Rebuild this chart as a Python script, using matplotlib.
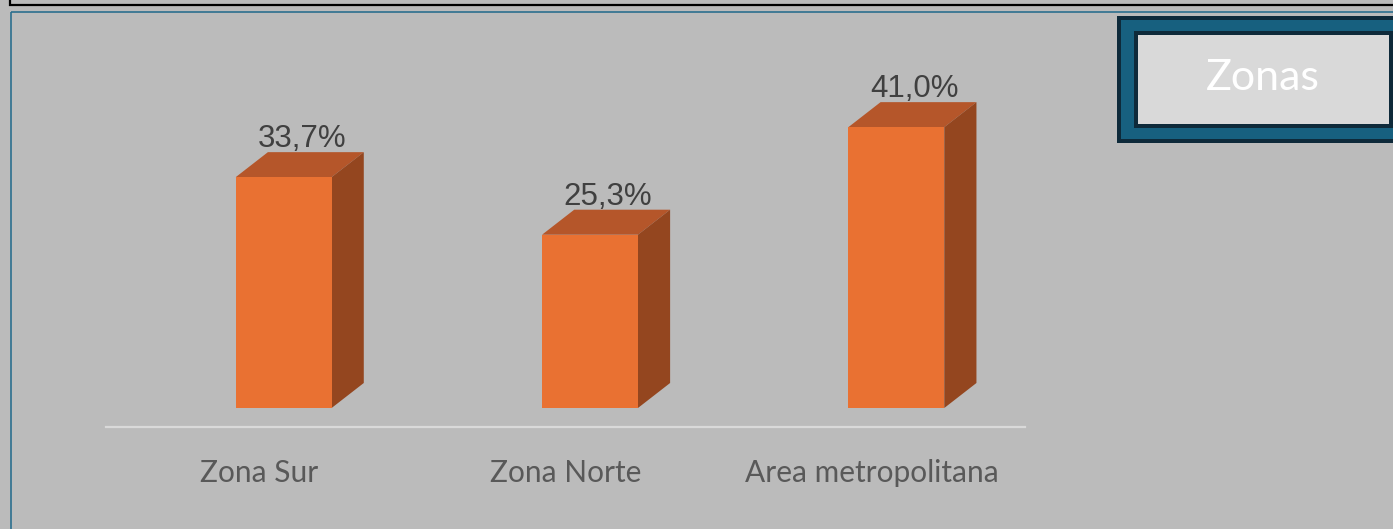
import matplotlib
matplotlib.use("Agg")
import matplotlib.pyplot as plt
from matplotlib.patches import Rectangle, Polygon

# data
zonas = ["Zona Sur", "Zona Norte", "Area metropolitana"]
valores = [33.7, 25.3, 41.0]
etiquetas = ["33,7%", "25,3%", "41,0%"]

# colours
bg = "#BBBBBB"
front_col = "#E97132"
top_col = "#B5562A"
side_col = "#94461F"

W, H = 1393, 529
fig = plt.figure(figsize=(W / 100, H / 100), dpi=100, facecolor=bg)

# background layer in pixel coordinates for the frame and the title box
bgax = fig.add_axes([0, 0, 1, 1], zorder=0)
bgax.set_xlim(0, W)
bgax.set_ylim(H, 0)
bgax.axis("off")
bgax.set_facecolor(bg)

# upper box edge and the blue chart frame
bgax.add_patch(Rectangle((10, -20), W, 25, fill=False, ec="black", lw=1.6))
bgax.add_patch(Rectangle((10.5, 11.5), W, H, fill=False, ec="#2B6F8E", lw=1.2))

# "Zonas" box
bgax.add_patch(Rectangle((1117, 16), 300, 127, fc="#0E2A3A", ec="none"))
bgax.add_patch(Rectangle((1121, 20), 300, 119, fc="#17607F", ec="none"))
bgax.add_patch(Rectangle((1134, 31), 259, 97, fc="#0E2A3A", ec="none"))
bgax.add_patch(Rectangle((1138, 35), 251, 89, fc="#D9D9D9", ec="none"))
bgax.text(1263, 78, "Zonas", color="white", fontsize=31, family="Lato",
          ha="center", va="center")

# chart axes: baseline (0 %) sits 19 px above the axis line
ax = fig.add_axes([106 / W, (H - 427) / H, 919 / W, 367 / H], zorder=1)
ax.set_facecolor("none")
ax.set_xlim(-0.5, 2.5)
ax.set_ylim(-19 / 6.85, 348 / 6.85)
for s in ax.spines.values():
    s.set_visible(False)
ax.set_xticks([])
ax.set_yticks([])
ax.axhline(ax.get_ylim()[0], color="#D9D9D9", lw=1.6, clip_on=False)

shift = 0.08     # bars sit a bit right of the category centre
bw = 0.313       # front face width
dx = 0.105       # depth offset in x
dy = 3.65        # depth offset in y (%)

for i, (v, lab) in enumerate(zip(valores, etiquetas)):
    x0 = i + shift - bw / 2
    x1 = x0 + bw
    ax.add_patch(Polygon([(x0, v), (x1, v), (x1 + dx, v + dy), (x0 + dx, v + dy)],
                         closed=True, fc=top_col, ec="none"))
    ax.add_patch(Polygon([(x1, 0), (x1 + dx, dy), (x1 + dx, v + dy), (x1, v)],
                         closed=True, fc=side_col, ec="none"))
    ax.add_patch(Rectangle((x0, 0), bw, v, fc=front_col, ec="none"))
    ax.text(i + shift + dx / 2 + 0.006, v + dy + 0.75, lab, ha="center",
            va="baseline", fontsize=22.5, color="#404040", family="Liberation Sans")
    ax.text(i, -9.5, zonas[i], ha="center", va="center", fontsize=21.5,
            color="#595959", family="Lato", clip_on=False)

fig.savefig("out.png", dpi=100, facecolor=bg)
